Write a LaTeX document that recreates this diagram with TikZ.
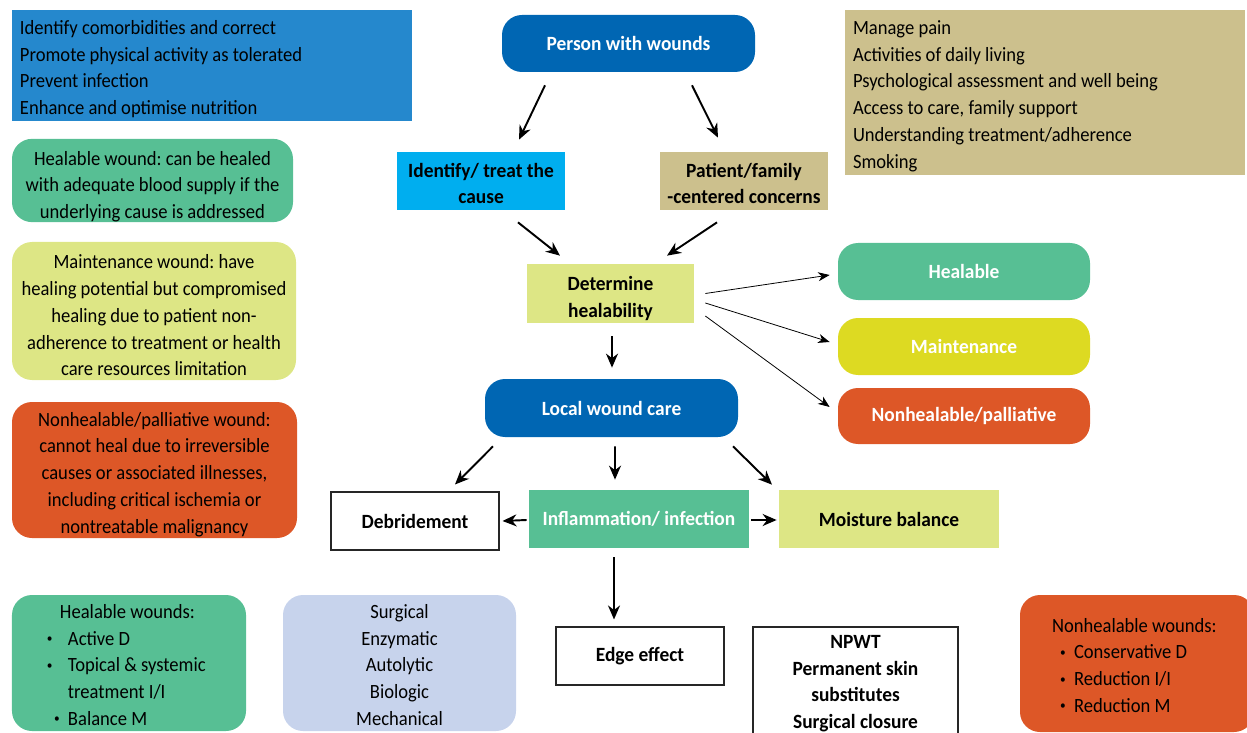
\documentclass[tikz,border=0pt]{standalone}
\usepackage{fontspec}
\setmainfont{Carlito}[FakeStretch=0.92,BoldFeatures={FakeStretch=0.96}]
\usetikzlibrary{arrows.meta,calc}

\definecolor{boxblue}{HTML}{2588CD}
\definecolor{tan}{HTML}{CCC08D}
\definecolor{darkblue}{HTML}{0066B3}
\definecolor{cyanbox}{HTML}{00AEEF}
\definecolor{paleyellow}{HTML}{DDE685}
\definecolor{healgreen}{HTML}{57BF94}
\definecolor{maintyellow}{HTML}{DDDA22}
\definecolor{nonhealorange}{HTML}{DD5727}
\definecolor{lavender}{HTML}{C7D3EC}

\newcommand\bul[1]{\makebox[#1][l]{\raisebox{0.25ex}{\scriptsize\textbullet}}}
\frenchspacing

\begin{document}
\begin{tikzpicture}[x=0.2mm,y=-0.2mm,
  txt/.style={font=\fontsize{11.5}{15.2}\selectfont},
  head/.style={font=\fontsize{11.5}{15.2}\selectfont\bfseries},
  low/.style={execute at begin node={\rule{0pt}{#1}}},
  low/.default=13pt,
  sz/.style 2 args={minimum width=#1*0.2mm,minimum height=#2*0.2mm},
  tw/.style 2 args={text width=#1*0.2mm,minimum height=#2*0.2mm,inner xsep=0pt},
  blk/.style={head,align=flush center,inner sep=0pt},
  pill/.style={blk,text=white,rounded corners=4mm},
  note/.style={txt,align=flush center,inner sep=0pt,rounded corners=4mm},
  list/.style={txt,align=flush left,inner ysep=0pt},
  plain/.style={blk,draw=black!85,line width=0.6pt,fill=white},
  flow/.style={line width=1.1pt,-{Stealth[length=2.8mm,width=2.4mm,inset=0.9mm]}},
  fine/.style={line width=0.45pt,-{Stealth[length=2.3mm,width=1.8mm,inset=0.7mm]}}]

\useasboundingbox (0,0) rectangle (1247,733);

% top lists
\node[list,low=12pt,fill=boxblue,inner xsep=1.6mm,text width=76.8mm,minimum height=111*0.2mm] (tasks) at (212,65.5)
  {Identify comorbidities and correct\\Promote physical activity as tolerated\\Prevent infection\\Enhance and optimise nutrition};
\node[list,low=12pt,fill=tan,inner xsep=1.6mm,text width=76.8mm,minimum height=165*0.2mm] (concerns) at (1045,92.5)
  {Manage pain\\Activities of daily living\\Psychological assessment and well being\\Access to care, family support\\Understanding treatment/adherence\\Smoking};

% main flow
\node[pill,fill=darkblue,sz={253}{57}] (person) at (628.5,43.5) {Person with wounds};
\node[blk,low=11pt,fill=cyanbox,tw={168}{58}] (identify) at (481,181) {Identify/ treat the\\cause};
\node[blk,low=11pt,fill=tan,tw={168}{58}] (patient) at (744,181) {Patient/family\\-centered concerns};
\node[blk,low=14pt,fill=paleyellow,tw={167}{59}] (determine) at (610.5,293.5) {Determine\\healability};

\node[pill,fill=healgreen,sz={252}{57}] (healable) at (964,271.5) {Healable};
\node[pill,fill=maintyellow,sz={252}{57}] (maint) at (964,346.5) {Maintenance};
\node[pill,fill=nonhealorange,sz={252}{56}] (nonheal) at (964,416) {Nonhealable/palliative};

\node[pill,fill=darkblue,sz={253}{58}] (local) at (611.5,408) {Local wound care};
\node[plain,sz={168}{58}] (debride) at (415,521) {Debridement};
\node[blk,fill=healgreen,text=white,sz={220}{58}] (inflam) at (639,519) {Inflammation/ infection};
\node[blk,fill=paleyellow,sz={220}{58}] (moisture) at (889,519) {Moisture balance};
\node[plain,sz={168}{58}] (edge) at (640,656) {Edge effect};
\node[plain,low=9.5pt,tw={205}{110}] (npwt) at (855.5,682) {NPWT\\Permanent skin\\substitutes\\Surgical closure};

% left notes
\node[note,low=15pt,fill=healgreen,tw={281}{83}] (hwound) at (152.5,180.5)
  {Healable wound: can be healed\\with adequate blood supply if the\\underlying cause is addressed};
\node[note,low,fill=paleyellow,tw={284}{138}] (mwound) at (154,311)
  {Maintenance wound: have\\healing potential but compromised\\healing due to patient non-\\adherence to treatment or health\\care resources limitation};
\node[note,low,fill=nonhealorange,tw={285}{136}] (nwound) at (154.5,470)
  {Nonhealable/palliative wound:\\cannot heal due to irreversible\\causes or associated illnesses,\\including critical ischemia or\\nontreatable malignancy};

% bottom notes
\node[list,low=10pt,fill=healgreen,rounded corners=4mm,inner xsep=7mm,text width=32.8mm,minimum height=136*0.2mm] (hlist) at (129,663)
  {\hspace*{2.6mm}Healable wounds:\\\bul{4.2mm}Active D\\\bul{4.2mm}Topical \& systemic\\\hspace*{4.2mm}treatment I/I\\\hspace*{1.4mm}\bul{2.8mm}Balance M};
\node[note,low=10pt,fill=lavender,tw={233}{136}] (methods) at (399.5,663)
  {Surgical\\Enzymatic\\Autolytic\\Biologic\\Mechanical};
\node[list,low=10pt,fill=nonhealorange,rounded corners=4mm,inner xsep=6.4mm,text width=34mm,minimum height=137*0.2mm] (nlist) at (1137,663.5)
  {Nonhealable wounds:\\\hspace*{1.6mm}\bul{2.8mm}Conservative D\\\hspace*{1.6mm}\bul{2.8mm}Reduction I/I\\\hspace*{1.6mm}\bul{2.8mm}Reduction M};

% arrows
\draw[flow] ($(person.south)+(-83.5,13)$) -- ($(identify.north)+(38,-12)$);
\draw[flow] ($(person.south)+(63.5,13)$) -- ($(patient.north)+(-26,-14)$);
\draw[flow] ($(identify.south)+(37,12)$) -- ($(determine.north)+(-50.5,-8)$);
\draw[flow] ($(patient.south)+(-27,12)$) -- ($(determine.north)+(56.5,-8)$);
\draw[flow] ($(determine.south)+(1.5,13)$) -- ($(local.north)+(0.5,-11)$);

\draw[fine] ($(determine.east)+(11,0)$) -- ($(healable.west)+(-8,3.5)$);
\draw[fine] ($(determine.east)+(11,9.5)$) -- ($(maint.west)+(-8,-4.5)$);
\draw[fine] ($(determine.east)+(11,22.5)$) -- ($(nonheal.west)+(-8,-9)$);

\draw[flow] ($(local.south)+(-118.5,9)$) -- ($(debride.north)+(40,-7)$);
\draw[flow] ($(local.south)+(3.5,9)$) -- ($(inflam.north)+(-24,-10)$);
\draw[flow] ($(local.south)+(121.5,9)$) -- ($(moisture.north)+(-117,-5)$);
\draw[flow] ($(inflam.west)+(-2,1)$) -- ($(debride.east)+(3,0)$);
\draw[flow] ($(inflam.east)+(2,1)$) -- ($(moisture.west)+(-2,1)$);
\draw[flow] ($(inflam.south)+(-25,9)$) -- ($(edge.north)+(-26,-7)$);

\end{tikzpicture}
\end{document}
